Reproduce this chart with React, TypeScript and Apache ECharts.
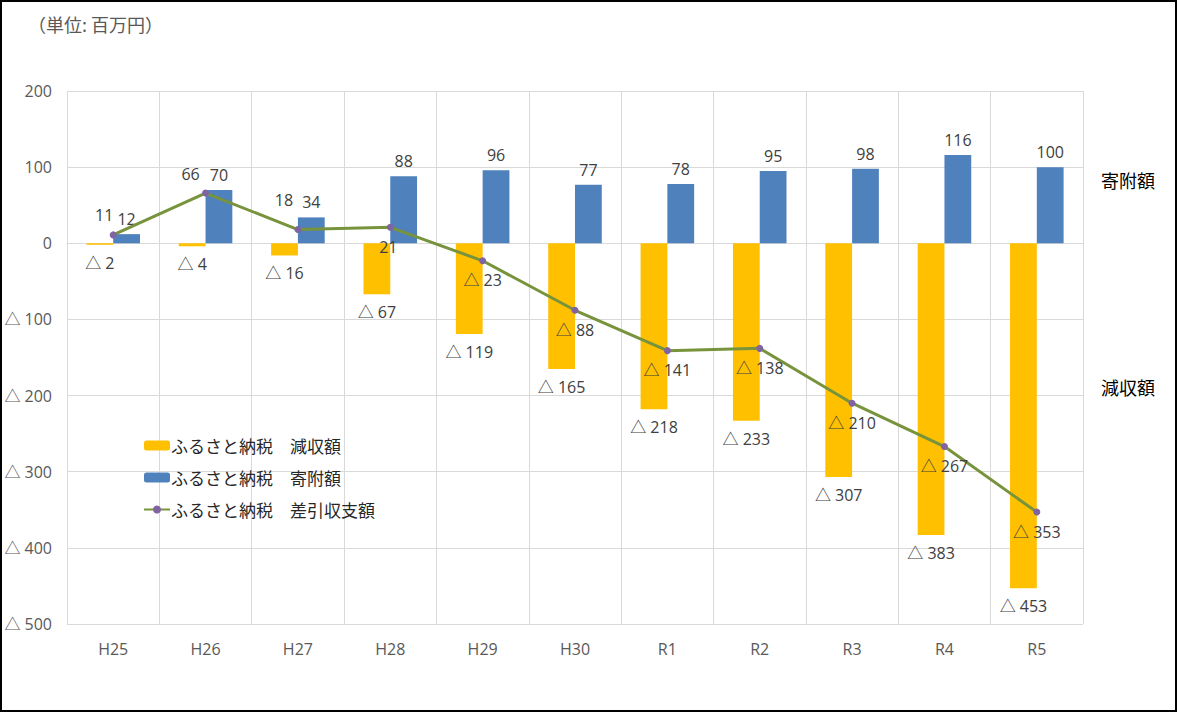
import React, { useEffect, useRef } from "react";
import * as echarts from "echarts";

const categories = ["H25", "H26", "H27", "H28", "H29", "H30", "R1", "R2", "R3", "R4", "R5"];
const reductionValues = [-2, -4, -16, -67, -119, -165, -218, -233, -307, -383, -453];
const donationValues = [12, 70, 34, 88, 96, 77, 78, 95, 98, 116, 100];
const balanceValues = [11, 66, 18, 21, -23, -88, -141, -138, -210, -267, -353];
const seriesNames = ["ふるさと納税　減収額", "ふるさと納税　寄附額", "ふるさと納税　差引収支額"];
const yTicks = { min: -500, max: 200, interval: 100 };

// label placement for the balance line (styling only)
const balanceLabelPlacement: Array<{ position: string; offset: [number, number] }> = [
  { position: "top", offset: [-9, 0] },
  { position: "top", offset: [-15, 0] },
  { position: "top", offset: [-14, -10] },
  { position: "bottom", offset: [-2, 0] },
  { position: "bottom", offset: [0, 0] },
  { position: "bottom", offset: [0, 0] },
  { position: "bottom", offset: [0, 0] },
  { position: "bottom", offset: [0, 0] },
  { position: "bottom", offset: [0, 0] },
  { position: "bottom", offset: [0, 0] },
  { position: "bottom", offset: [0, 0] },
];

const FONT = "'Open Sans', 'Noto Sans CJK JP', sans-serif";
const CJK = "'Noto Sans CJK JP', sans-serif";
const fmt = (v: number) => (v < 0 ? "△ " + Math.abs(v) : String(v));

export default function App() {
  const ref = useRef<HTMLDivElement>(null);
  useEffect(() => {
    if (!ref.current) return;
    const chart = echarts.init(ref.current, undefined, { renderer: "svg" });
    const labelStyle = { color: "#404040", fontSize: 16, fontFamily: FONT };
    chart.setOption({
      animation: false,
      backgroundColor: "#ffffff",
      textStyle: { fontFamily: FONT },
      grid: { left: 67, right: 94, top: 91, bottom: 88, containLabel: false },
      legend: {
        orient: "vertical",
        left: 138,
        top: 432,
        itemGap: 15,
        itemWidth: 26,
        itemHeight: 10,
        textStyle: { color: "#262626", fontSize: 17, fontFamily: CJK, padding: [0, 0, 0, -4] },
        data: seriesNames,
      },
      xAxis: {
        type: "category",
        data: categories,
        axisLine: { show: true, lineStyle: { color: "#d9d9d9" } },
        axisTick: { show: false },
        axisLabel: { color: "#595959", fontSize: 16, margin: 17, fontFamily: FONT },
        splitLine: { show: true, lineStyle: { color: "#d9d9d9" } },
      },
      yAxis: {
        type: "value",
        min: yTicks.min,
        max: yTicks.max,
        interval: yTicks.interval,
        axisLine: { show: false },
        axisTick: { show: false },
        axisLabel: {
          color: "#595959",
          fontSize: 16,
          margin: 15,
          fontFamily: FONT,
          formatter: (v: number) => fmt(v),
        },
        splitLine: { lineStyle: { color: "#d9d9d9" } },
      },
      series: [
        {
          name: seriesNames[0],
          type: "bar",
          data: reductionValues,
          barGap: "0%",
          barCategoryGap: "42%",
          itemStyle: { color: "#FFC000" },
          label: {
            show: true,
            position: "bottom",
            distance: 10,
            ...labelStyle,
            formatter: (p: any) => fmt(p.value),
          },
        },
        {
          name: seriesNames[1],
          type: "bar",
          data: donationValues,
          itemStyle: { color: "#4F81BD" },
          label: {
            show: true,
            position: "top",
            distance: 7,
            ...labelStyle,
            formatter: (p: any) => fmt(p.value),
          },
        },
        {
          name: seriesNames[2],
          type: "line",
          data: balanceValues.map((v, i) => ({
            value: v,
            label: {
              position: balanceLabelPlacement[i].position,
              offset: balanceLabelPlacement[i].offset,
            },
          })),
          z: 5,
          symbol: "circle",
          symbolSize: 7,
          lineStyle: { color: "#77933C", width: 3 },
          itemStyle: { color: "#8064A2" },
          label: {
            show: true,
            distance: 8,
            ...labelStyle,
            formatter: (p: any) => fmt(p.value),
          },
        },
      ],
      graphic: [
        {
          type: "rect",
          shape: { x: 1, y: 1, width: 1175, height: 710 },
          style: { fill: "none", stroke: "#000000", lineWidth: 2 },
          silent: true,
          z: 100,
        },
        {
          type: "text",
          left: 28,
          top: 15,
          style: { text: "（単位: 百万円）", fill: "#595959", fontSize: 18, fontFamily: CJK },
        },
        {
          type: "text",
          left: 1101,
          top: 171,
          style: { text: "寄附額", fill: "#000000", fontSize: 18, fontFamily: CJK },
        },
        {
          type: "text",
          left: 1101,
          top: 378,
          style: { text: "減収額", fill: "#000000", fontSize: 18, fontFamily: CJK },
        },
      ],
    });
    return () => chart.dispose();
  }, []);
  return (
    <div
      ref={ref}
      style={{ position: "absolute", left: 0, top: 0, width: 1177, height: 712 }}
    />
  );
}
